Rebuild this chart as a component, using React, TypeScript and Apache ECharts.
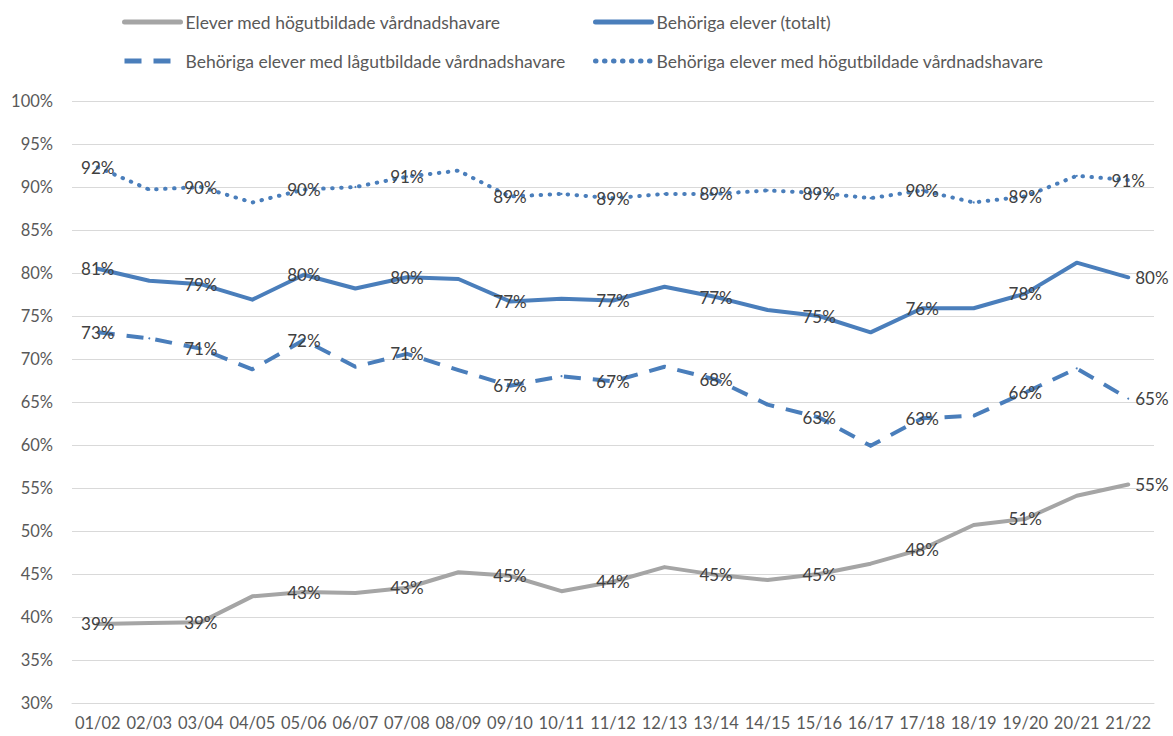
import React, { useEffect, useRef } from "react";
import * as echarts from "echarts";

const categories = [
  "01/02", "02/03", "03/04", "04/05", "05/06", "06/07", "07/08", "08/09", "09/10", "10/11",
  "11/12", "12/13", "13/14", "14/15", "15/16", "16/17", "17/18", "18/19", "19/20", "20/21", "21/22",
];

const seriesNames = [
  "Elever med högutbildade vårdnadshavare",
  "Behöriga elever (totalt)",
  "Behöriga elever med lågutbildade vårdnadshavare",
  "Behöriga elever med högutbildade vårdnadshavare",
];

const elevHogutbildade = [
  39.2, 39.3, 39.4, 42.4, 42.9, 42.8, 43.4, 45.2, 44.8, 43.0,
  44.1, 45.8, 44.9, 44.3, 45.0, 46.2, 47.9, 50.7, 51.4, 54.1, 55.4,
];
const behorigaTotalt = [
  80.5, 79.1, 78.7, 76.9, 79.8, 78.2, 79.5, 79.3, 76.7, 77.0,
  76.8, 78.4, 77.2, 75.7, 75.0, 73.1, 75.9, 75.9, 77.6, 81.2, 79.5,
];
const behorigaLag = [
  73.1, 72.4, 71.2, 68.8, 72.2, 69.1, 70.6, 68.7, 66.9, 68.0,
  67.4, 69.1, 67.6, 64.7, 63.2, 59.9, 63.1, 63.4, 66.1, 68.9, 65.4,
];
const behorigaHog = [
  92.3, 89.7, 90.0, 88.2, 89.7, 90.0, 91.2, 91.9, 88.9, 89.2,
  88.7, 89.2, 89.2, 89.6, 89.3, 88.7, 89.6, 88.2, 88.9, 91.3, 90.8,
];

const yTicks = { min: 30, max: 100, interval: 5 };

const GRAY = "#A5A5A5";
const BLUE = "#4A7EBB";
const FONT = "Lato, 'Liberation Sans', sans-serif";

function buildData(values: number[], lastRight: boolean) {
  const last = values.length - 1;
  return values.map((v, i) => ({
    value: v,
    label: {
      show: i % 2 === 0,
      position: i === last && lastRight ? "right" : "inside",
      distance: 6,
    },
  }));
}

export default function App() {
  const ref = useRef<HTMLDivElement>(null);

  useEffect(() => {
    if (!ref.current) return;
    const chart = echarts.init(ref.current, undefined, { renderer: "svg" });

    const labelStyle = {
      color: "#404040",
      fontFamily: FONT,
      fontSize: 17,
      formatter: (p: any) => Math.round(p.value) + "%",
    };

    const mk = (name: string, values: number[], color: string, lineType: any, lastRight: boolean, cap: string) => ({
      name,
      type: "line",
      data: buildData(values, lastRight),
      symbol: "circle",
      symbolSize: 2,
      showSymbol: true,
      itemStyle: { color },
      lineStyle: { color, width: 4, type: lineType, cap, join: "round" },
      label: labelStyle,
      emphasis: { disabled: true },
      z: 2,
    });

    const legendBase = {
      orient: "vertical",
      top: 8,
      itemWidth: 56,
      itemHeight: 16,
      itemGap: 21,
      itemStyle: { opacity: 0 },
      lineStyle: { width: 5 },
      textStyle: { color: "#595959", fontFamily: FONT, fontSize: 17.5, lineHeight: 16 },
      selectedMode: false,
    };

    chart.setOption({
      animation: false,
      backgroundColor: "#ffffff",
      legend: [
        { ...legendBase, left: 117, data: [seriesNames[0], seriesNames[2]] },
        { ...legendBase, left: 588, data: [seriesNames[1], seriesNames[3]] },
      ],
      grid: { left: 72, right: 19, top: 101, bottom: 33, containLabel: false },
      xAxis: {
        type: "category",
        data: categories,
        boundaryGap: true,
        axisLine: { show: true, lineStyle: { color: "#D9D9D9", width: 1 } },
        axisTick: { show: false },
        axisLabel: { color: "#595959", fontFamily: FONT, fontSize: 16.5, margin: 11, interval: 0 },
      },
      yAxis: {
        type: "value",
        min: yTicks.min,
        max: yTicks.max,
        interval: yTicks.interval,
        axisLine: { show: false },
        axisTick: { show: false },
        splitLine: { lineStyle: { color: "#D9D9D9", width: 1 } },
        axisLabel: {
          color: "#595959",
          fontFamily: FONT,
          fontSize: 16.5,
          margin: 19,
          formatter: "{value}%",
        },
      },
      series: [
        mk(seriesNames[0], elevHogutbildade, GRAY, "solid", true, "round"),
        mk(seriesNames[1], behorigaTotalt, BLUE, "solid", true, "round"),
        mk(seriesNames[2], behorigaLag, BLUE, [17, 12], true, "butt"),
        mk(seriesNames[3], behorigaHog, BLUE, [0.5, 8.5], false, "round"),
      ],
    });

    return () => chart.dispose();
  }, []);

  return (
    <div
      ref={ref}
      style={{ position: "fixed", left: 0, top: 0, width: 1173, height: 736 }}
    />
  );
}
